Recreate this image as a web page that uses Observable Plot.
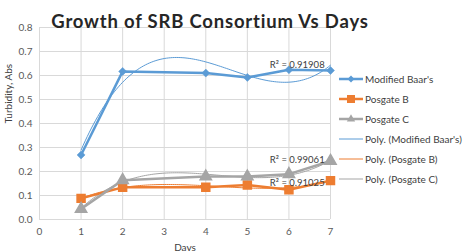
<!DOCTYPE html>
<html>
<head>
<meta charset="utf-8">
<script src="https://cdn.jsdelivr.net/npm/d3@7"></script>
<script src="https://cdn.jsdelivr.net/npm/@observablehq/plot@0.6"></script>
<style>
  html, body { margin: 0; padding: 0; background: #fff; }
  svg { display: block; }
</style>
</head>
<body>
<div id="chart"></div>
<script>
// Turbidity readings per day for each medium
const days = [1, 2, 4, 5, 6, 7];
const baars = [0.269, 0.617, 0.610, 0.592, 0.624, 0.621];
const posgateB = [0.088, 0.134, 0.134, 0.144, 0.124, 0.162];
const posgateC = [0.044, 0.164, 0.179, 0.179, 0.189, 0.244];

const seriesNames = ["Modified Baar's", "Posgate B", "Posgate C"];
const colors = ["#5B9BD5", "#ED7D31", "#A5A5A5"];
const r2Labels = ["R² = 0.91908", "R² = 0.91025", "R² = 0.99061"];
const xTicks = [0, 1, 2, 3, 4, 5, 6, 7];
const yTicks = [0, 0.1, 0.2, 0.3, 0.4, 0.5, 0.6, 0.7, 0.8];
const title = "Growth of SRB Consortium Vs Days";

// Least-squares polynomial trendline (order 3)
function polyfit(xs, ys, order) {
  const n = order + 1;
  const A = Array.from({length: n}, () => new Array(n + 1).fill(0));
  for (let i = 0; i < xs.length; i++) {
    for (let r = 0; r < n; r++) {
      for (let c = 0; c < n; c++) A[r][c] += Math.pow(xs[i], r + c);
      A[r][n] += ys[i] * Math.pow(xs[i], r);
    }
  }
  for (let k = 0; k < n; k++) {
    let p = k;
    for (let r = k + 1; r < n; r++) if (Math.abs(A[r][k]) > Math.abs(A[p][k])) p = r;
    [A[k], A[p]] = [A[p], A[k]];
    for (let r = 0; r < n; r++) {
      if (r === k) continue;
      const f = A[r][k] / A[k][k];
      for (let c = k; c <= n; c++) A[r][c] -= f * A[k][c];
    }
  }
  const coef = A.map((row, i) => row[n] / row[i]);
  return x => coef.reduce((s, c, i) => s + c * Math.pow(x, i), 0);
}

const allValues = [baars, posgateB, posgateC];
const points = allValues.flatMap((vals, s) =>
  days.map((d, i) => ({series: seriesNames[s], day: d, value: vals[i]})));

const fits = allValues.map(vals => polyfit(days, vals, 3));
const trend = fits.flatMap((f, s) =>
  d3.range(1, 7.001, 0.05).map(x => ({series: seriesNames[s], day: x, value: f(x)})));

const font = "Lato, 'Open Sans', sans-serif";
const seriesOf = s => points.filter(p => p.series === seriesNames[s]);
const trendOf = s => trend.filter(p => p.series === seriesNames[s]);

const plot = Plot.plot({
  width: 465,
  height: 251,
  marginLeft: 39,
  marginRight: 135,
  marginTop: 27,
  marginBottom: 32,
  style: {fontFamily: font, fontSize: "10px", color: "#595959", background: "#fff"},
  x: {domain: [0, 7], label: null},
  y: {domain: [0, 0.8], label: null},
  marks: [
    Plot.gridX(xTicks, {stroke: "#D9D9D9", strokeOpacity: 1}),
    Plot.gridY(yTicks, {stroke: "#D9D9D9", strokeOpacity: 1}),
    Plot.axisX({ticks: xTicks, tickSize: 0, tickPadding: 8, tickFormat: d3.format("d"), fill: "#595959"}),
    Plot.axisY({ticks: yTicks, tickSize: 0, tickPadding: 7, tickFormat: d3.format(".1f"), fill: "#595959"}),
    // polynomial trendlines
    ...[0, 1, 2].map(s => Plot.line(trendOf(s), {x: "day", y: "value", stroke: colors[s], strokeWidth: 1})),
    // measured series
    ...[0, 1, 2].map(s => Plot.line(seriesOf(s), {x: "day", y: "value", stroke: colors[s], strokeWidth: 2.5})),
    Plot.dot(seriesOf(0), {x: "day", y: "value", symbol: "diamond2", r: 3.6, fill: colors[0], stroke: colors[0], strokeWidth: 0.5}),
    Plot.dot(seriesOf(1), {x: "day", y: "value", symbol: "square", r: 4.5, fill: colors[1], stroke: colors[1]}),
    Plot.dot(seriesOf(2), {x: "day", y: "value", symbol: "triangle", r: 4.2, fill: colors[2], stroke: colors[2]}),
    // R² labels
    Plot.text([{day: 6.2, value: baars[4], t: r2Labels[0]}], {x: "day", y: "value", text: "t", dy: -5, fontSize: 9.5, fill: "#404040"}),
    Plot.text([{day: 6.2, value: posgateC[4], t: r2Labels[2]}], {x: "day", y: "value", text: "t", dy: -14, fontSize: 9.5, fill: "#404040"}),
    Plot.text([{day: 6.2, value: posgateB[4], t: r2Labels[1]}], {x: "day", y: "value", text: "t", dy: -7, fontSize: 9.5, fill: "#404040"}),
    // title and axis labels
    Plot.text([title], {frameAnchor: "top", dy: -13, dx: 25, fontSize: 18.5, fontWeight: "bold", fill: "#262626"}),
    Plot.text(["Turbidity, Abs"], {frameAnchor: "left", dx: -31, rotate: -90, fontSize: 10, fill: "#404040"}),
    Plot.text(["Days"], {frameAnchor: "bottom", dy: 31, fontSize: 10, fill: "#404040"})
  ]
});

const svg = d3.select(plot);
svg.selectAll("text").filter(function () { return this.textContent === title; })
  .style("letter-spacing", "0.8px");

// Legend to the right of the plot area
const legendItems = [
  {name: "Modified Baar's", color: colors[0], w: 2.5, sym: "diamond"},
  {name: "Posgate B", color: colors[1], w: 2.5, sym: "square"},
  {name: "Posgate C", color: colors[2], w: 2.5, sym: "triangle"},
  {name: "Poly. (Modified Baar's)", color: colors[0], w: 1},
  {name: "Poly. (Posgate B)", color: colors[1], w: 1},
  {name: "Poly. (Posgate C)", color: colors[2], w: 1}
];
const lg = svg.append("g").attr("transform", "translate(339,79)")
  .style("font-family", font).attr("text-anchor", "start");
legendItems.forEach((it, i) => {
  const g = lg.append("g").attr("transform", `translate(0,${i * 20})`);
  g.append("line").attr("x1", 0).attr("x2", 24).attr("y1", 0).attr("y2", 0)
    .attr("stroke", it.color).attr("stroke-width", it.w);
  if (it.sym === "diamond") g.append("path").attr("d", d3.symbol(d3.symbolDiamond2, 30)()).attr("transform", "translate(12,0)").attr("fill", it.color);
  if (it.sym === "square") g.append("rect").attr("x", 8).attr("y", -4).attr("width", 8).attr("height", 8).attr("fill", it.color);
  if (it.sym === "triangle") g.append("path").attr("d", d3.symbol(d3.symbolTriangle, 30)()).attr("transform", "translate(12,0)").attr("fill", it.color);
  g.append("text").attr("x", 26).attr("y", 0).attr("dy", "0.35em").attr("font-size", 10).attr("fill", "#404040").text(it.name);
});

document.getElementById("chart").append(plot);
</script>
</body>
</html>
